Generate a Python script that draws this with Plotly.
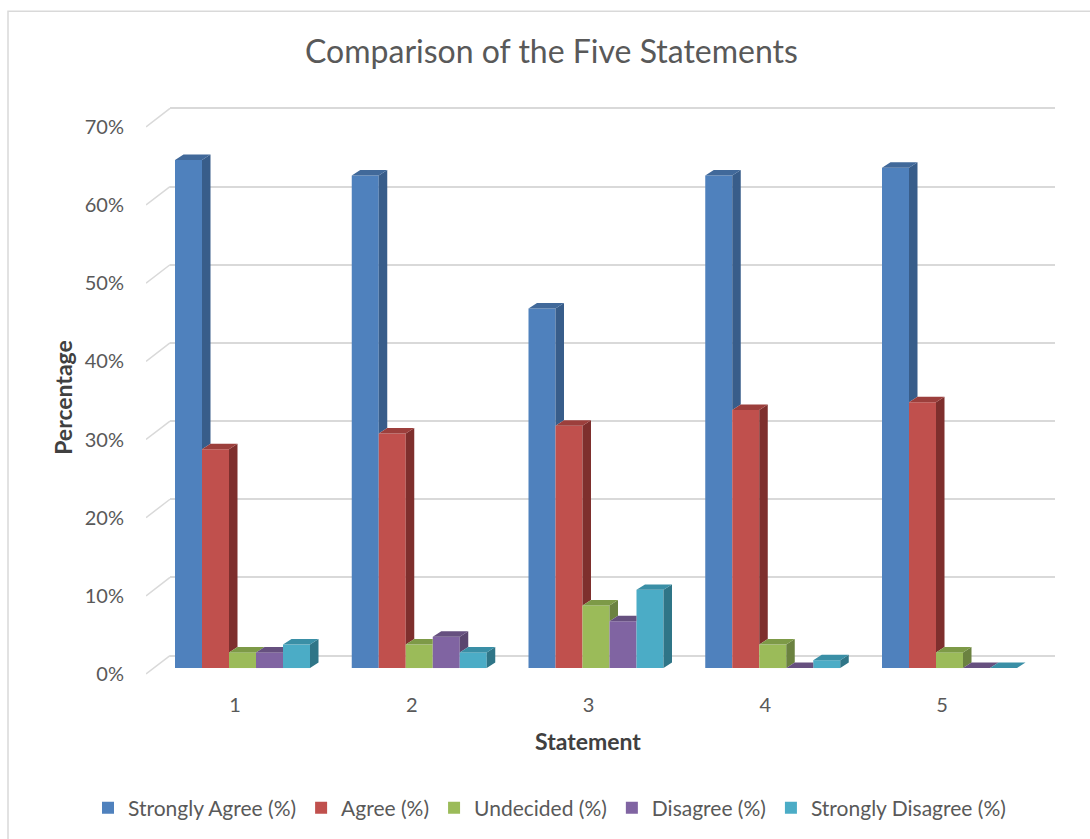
import plotly.graph_objects as go

# ---------------- data ----------------
statements = [1, 2, 3, 4, 5]
statement_labels = ["1", "2", "3", "4", "5"]
series_names = ["Strongly Agree (%)", "Agree (%)", "Undecided (%)",
                "Disagree (%)", "Strongly Disagree (%)"]
strongly_agree = [65, 63, 46, 63, 64]
agree = [28, 30, 31, 33, 34]
undecided = [2, 3, 8, 3, 2]
disagree = [2, 4, 6, 0, 0]
strongly_disagree = [3, 2, 10, 1, 0]
y_ticks = [0, 10, 20, 30, 40, 50, 60, 70]
y_tick_labels = ["0%", "10%", "20%", "30%", "40%", "50%", "60%", "70%"]

# ---------------- styling ----------------
front_colors = ["#4F81BD", "#C0504D", "#9BBB59", "#8064A2", "#4BACC6"]
side_colors = ["#385D8A", "#7E2F2D", "#6B8240", "#5A466F", "#2F7587"]
top_colors = ["#41699A", "#9C3F3C", "#7D9A47", "#66507F", "#3A8FA6"]
TXT = "#595959"
GRID = "#D9D9D9"
FONT = "Lato"

W, H = 1090, 839
L, R, T, B = 140, 35, 100, 149
PW, PH = W - L - R, H - T - B
PX_CAT = 176.75   # pixels per category step
PX_PCT = 7.83     # pixels per percentage point


def xd(a, b):
    return [(a - L) / PW, (b - L) / PW]


def yd(top, bot):
    return [(H - B - bot) / PH, (H - B - top) / PH]


def yr(zero_px, top, bot):
    return [(zero_px - bot) / PX_PCT, (zero_px - top) / PX_PCT]


def xr(first_px, a, b):
    return [1 - (first_px - a) / PX_CAT, 1 + (b - first_px) / PX_CAT]


series = [strongly_agree, agree, undecided, disagree, strongly_disagree]
GROUP_W = 135 / PX_CAT
BAR_W = GROUP_W / len(series)
DX = 8.5 / PX_CAT
DY = 5.5 / PX_PCT

fig = go.Figure()

# placeholder trace so the back-wall gridline subplot is created
fig.add_trace(go.Scatter(x=[None], y=[None], mode="markers", showlegend=False,
                         hoverinfo="skip", xaxis="x", yaxis="y"))

# front faces
for j, (name, vals) in enumerate(zip(series_names, series)):
    fig.add_trace(go.Bar(
        x=statements, y=vals, name=name,
        width=BAR_W, offset=-GROUP_W / 2 + j * BAR_W,
        marker=dict(color=front_colors[j], line=dict(width=0)),
        xaxis="x2", yaxis="y2", hoverinfo="skip",
    ))

# side and top faces (3-D effect), derived from values
for j, vals in enumerate(series):
    off = -GROUP_W / 2 + j * BAR_W
    sx, sy, tx, ty = [], [], [], []
    for i, cat in enumerate(statements):
        v = vals[i]
        nxt = series[j + 1][i] if j + 1 < len(series) else 0
        xl = cat + off
        xrr = xl + BAR_W
        if v > nxt:
            sx += [xrr, xrr + DX, xrr + DX, xrr, xrr, None]
            sy += [nxt, nxt + DY, v + DY, v, nxt, None]
        if nxt > v:
            tx += [xl, xrr, xrr, xl + DX, xl, None]
            ty += [v, v, v + DY, v + DY, v, None]
        else:
            tx += [xl, xrr, xrr + DX, xl + DX, xl, None]
            ty += [v, v, v + DY, v + DY, v, None]
    fig.add_trace(go.Scatter(x=sx, y=sy, mode="lines", fill="toself",
                             fillcolor=side_colors[j], line=dict(width=0, color=side_colors[j]),
                             showlegend=False, hoverinfo="skip", xaxis="x2", yaxis="y2"))
    fig.add_trace(go.Scatter(x=tx, y=ty, mode="lines", fill="toself",
                             fillcolor=top_colors[j], line=dict(width=0, color=top_colors[j]),
                             showlegend=False, hoverinfo="skip", xaxis="x2", yaxis="y2"))

# diagonal wall edges from front tick to back gridline
x3_range = xr(235, 146, 1030)
dgx, dgy = [], []
back_shift = (675 - 656.5) / PX_PCT
for v in y_ticks:
    dgx += [x3_range[0], x3_range[0] + 24 / PX_CAT, None]
    dgy += [v, v + back_shift, None]
fig.add_trace(go.Scatter(x=dgx, y=dgy, mode="lines", line=dict(color=GRID, width=1.5),
                         showlegend=False, hoverinfo="skip", xaxis="x3", yaxis="y3"))

hidden = dict(visible=False, showgrid=False, zeroline=False)

fig.update_layout(
    width=W, height=H, autosize=False,
    margin=dict(l=L, r=R, t=T, b=B),
    paper_bgcolor="white", plot_bgcolor="rgba(0,0,0,0)",
    font=dict(family=FONT, color=TXT, size=20),
    barmode="overlay",
    title=dict(text="Comparison of the Five Statements", x=551.5 / W, xref="container",
               xanchor="center", y=1 - 52 / H, yanchor="middle",
               font=dict(family=FONT, size=32, color=TXT)),
    # back wall gridlines
    xaxis=dict(domain=xd(170, 1055), range=[0, 1], anchor="y",
               showgrid=False, zeroline=False, showline=False,
               showticklabels=False, ticks=""),
    yaxis=dict(domain=yd(100, 690), range=yr(656.5, 100, 690), anchor="x",
               tickvals=y_ticks, showticklabels=False, showgrid=True, gridcolor=GRID,
               gridwidth=1.5, zeroline=False, showline=False, ticks=""),
    # bars
    xaxis2=dict(domain=xd(148, 1055), range=xr(242.5, 148, 1055), anchor="y2", **hidden),
    yaxis2=dict(domain=yd(100, 690), range=yr(669, 100, 690), anchor="x2", **hidden),
    # labels (front plane)
    xaxis3=dict(domain=xd(146, 1030), range=x3_range, anchor="y3",
                tickvals=statements, ticktext=statement_labels,
                showgrid=False, zeroline=False, showline=False,
                ticks="", ticklabelstandoff=2,
                tickfont=dict(size=20, color=TXT),
                title=dict(text="<b>Statement</b>", standoff=18,
                           font=dict(size=23, color="#404040"))),
    yaxis3=dict(domain=yd(106, 690), range=yr(675, 106, 690), anchor="x3",
                tickvals=y_ticks, ticktext=y_tick_labels,
                showgrid=False, zeroline=False, showline=False,
                ticks="outside", ticklen=17, tickcolor="rgba(0,0,0,0)",
                tickfont=dict(size=20, color=TXT),
                title=dict(text="<b>Percentage</b>", standoff=5,
                           font=dict(size=23, color="#404040"))),
    legend=dict(orientation="h", x=(88 - L) / PW, xanchor="left",
                y=(H - B - 808) / PH, yanchor="middle",
                font=dict(size=21, color=TXT), bgcolor="rgba(0,0,0,0)",
                itemwidth=30, tracegroupgap=0),
    shapes=[dict(type="rect", xref="paper", yref="paper",
                 x0=(8 - L) / PW, x1=(1100 - L) / PW,
                 y0=(H - B - 850) / PH, y1=(H - B - 11) / PH,
                 line=dict(color=GRID, width=1.5), fillcolor="rgba(0,0,0,0)",
                 layer="below")],
)

fig.write_html("out.html")
